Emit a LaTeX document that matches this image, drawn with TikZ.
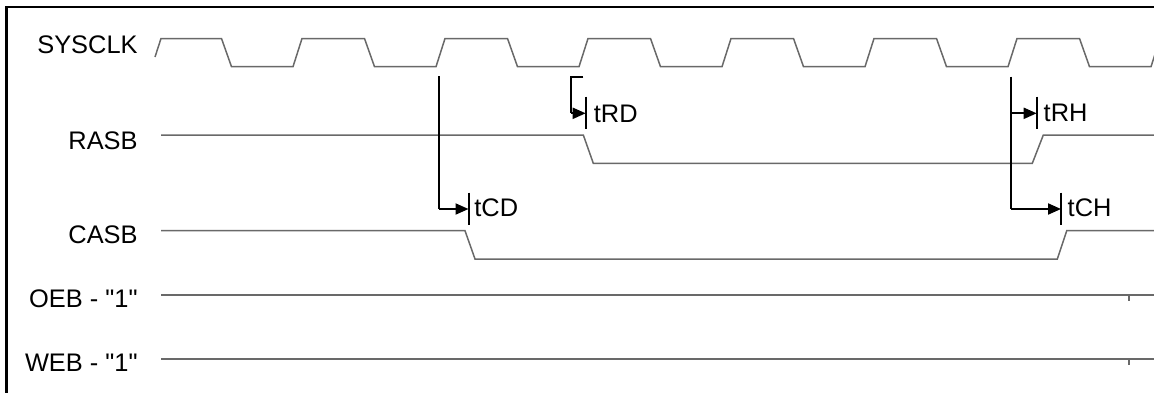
\documentclass[tikz,border=0pt]{standalone}
\usepackage{fontspec}
\setmainfont{Liberation Sans}[Ligatures=TeXOff]
\usetikzlibrary{arrows.meta}
\definecolor{wave}{RGB}{105,105,105}
\begin{document}
\begin{tikzpicture}[x=0.5pt,y=-0.5pt,
  sig/.style={draw=wave,line width=0.75pt,line join=miter},
  ann/.style={draw=black,line width=1pt},
  arr/.style={ann,-{Triangle[length=6.5pt,width=5.5pt]}},
  lbl/.style={inner sep=0pt,anchor=base east,font=\fontsize{12.7}{15}\selectfont},
  tlbl/.style={inner sep=0pt,anchor=base west,font=\fontsize{12.7}{15}\selectfont}]
\useasboundingbox (0,0) rectangle (1154,392);
% frame (top and left visible)
\draw[line width=1.25pt] (1160,7) -- (6.5,7) -- (6.5,400);
% labels
\node[lbl] (lclk) at (138,53.3) {SYSCLK};
\node[lbl] (lras) at (138,149.3) {RASB};
\node[lbl] (lcas) at (138,243.3) {CASB};
\node[lbl] (loeb) at (138,307.7) {OEB - "1"};
\node[lbl] (lweb) at (138,371) {WEB - "1"};
% SYSCLK
\draw[sig] (155,57) -- (161,38.5)
  \foreach \k in {0,...,6} {
    -- ({150+143*\k+71.5},38.5) -- ({150+143*\k+81.5},66.7)
    -- ({150+143*\k+143},66.7) -- ({150+143*\k+152},38.5) };
% RASB
\draw[sig] (161,135) -- (583.3,135) -- (593.3,163.3) -- (1032.3,163.3) -- (1043.3,135) -- (1160,135);
% CASB
\draw[sig] (161,230.7) -- (465,230.7) -- (475,259) -- (1057.3,259) -- (1066.7,230.7) -- (1160,230.7);
% OEB, WEB
\draw[sig] (161,295) -- (1160,295);
\draw[sig] (1129,295) -- (1129,301);
\draw[sig] (161,359) -- (1160,359);
\draw[sig] (1129,359) -- (1129,365);
% timing coordinates
\coordinate (cd0) at (439,76);
\coordinate (cd1) at (439,209);
\coordinate (cdE) at (468.5,209);
\coordinate (rd0) at (583.3,77);
\coordinate (rd1) at (570.7,77);
\coordinate (rd2) at (570.7,113.3);
\coordinate (rdE) at (585.7,113.3);
\coordinate (rh0) at (1010.7,76.7);
\coordinate (rh1) at (1010.7,113.3);
\coordinate (rhE) at (1036.7,113.3);
\coordinate (ch1) at (1010.7,209);
\coordinate (chE) at (1061,209);
% tCD
\draw[ann] (cd0) -- (cd1);
\draw[arr] (cd1) -- (cdE);
\draw[ann] ([yshift=8.15pt]cdE) -- ([yshift=-8pt]cdE);
\node[tlbl] (tcd) at (474,216.5) {tCD};
% tRD
\draw[ann] (rd0) -- (rd1) -- (rd2);
\draw[arr] (rd2) -- (rdE);
\draw[ann] ([yshift=8.3pt]rdE) -- ([yshift=-7.9pt]rdE);
\node[tlbl] (trd) at (593.5,122.3) {tRD};
% tRH / tCH
\draw[ann] (rh0) -- (ch1);
\draw[arr] (rh1) -- (rhE);
\draw[ann] ([yshift=8.3pt]rhE) -- ([yshift=-7.9pt]rhE);
\node[tlbl] (trh) at (1043.3,121.7) {tRH};
\draw[arr] (ch1) -- (chE);
\draw[ann] ([yshift=8.15pt]chE) -- ([yshift=-8pt]chE);
\node[tlbl] (tch) at (1067.3,216.7) {tCH};
\end{tikzpicture}
\end{document}
